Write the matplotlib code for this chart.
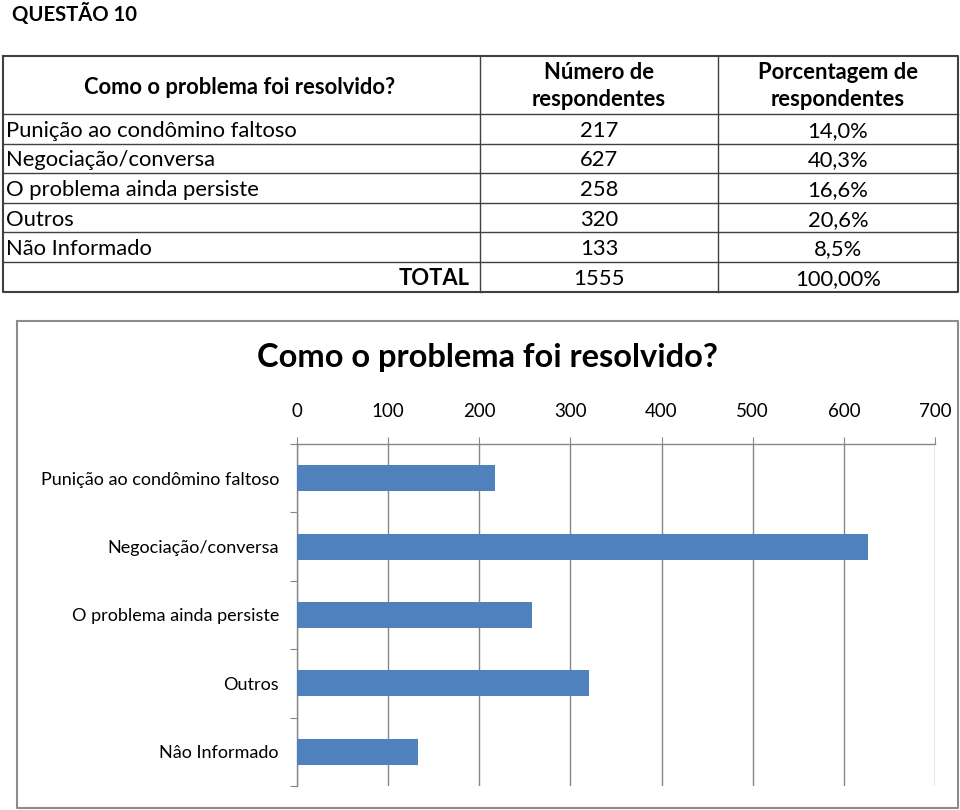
import matplotlib
matplotlib.use("Agg")
import matplotlib.pyplot as plt

# ---- data ----
categories = ["Punição ao condômino faltoso", "Negociação/conversa",
              "O problema ainda persiste", "Outros", "Não Informado"]
chart_labels = ["Punição ao condômino faltoso", "Negociação/conversa",
                "O problema ainda persiste", "Outros", "Nâo Informado"]
counts = [217, 627, 258, 320, 133]
percents = ["14,0%", "40,3%", "16,6%", "20,6%", "8,5%"]
total_count = "1555"
total_pct = "100,00%"
x_ticks = [0, 100, 200, 300, 400, 500, 600, 700]

FONT = "Lato"
plt.rcParams['font.family'] = [FONT, 'DejaVu Sans']

W, H = 960, 810
fig = plt.figure(figsize=(W / 100, H / 100), dpi=100)

# background axes in pixel coordinates
bg = fig.add_axes([0, 0, 1, 1])
bg.set_xlim(0, W)
bg.set_ylim(H, 0)
bg.axis("off")

bg.text(12, 14, "QUESTÃO 10", fontsize=14.6, fontweight="bold", va="center", ha="left")

# table geometry
tx0, tx1 = 3, 958
c1, c2 = 480, 718
ty0 = 56
hdr_bot = 114
row_h = 29.6
row_lines = [hdr_bot + i * row_h for i in range(7)]
ty1 = row_lines[-1]

lc = "#404040"
bg.plot([tx0, tx1, tx1, tx0, tx0], [ty0, ty0, ty1, ty1, ty0], color=lc, lw=1.5)
for y in row_lines[:-1]:
    bg.plot([tx0, tx1], [y, y], color=lc, lw=1.0)
bg.plot([c1, c1], [ty0, ty1], color=lc, lw=1.0)
bg.plot([c2, c2], [ty0, ty1], color=lc, lw=1.0)

fs = 15.8
bg.text(240, 87, "Como o problema foi resolvido?", fontsize=fs, fontweight="bold",
        ha="center", va="center")
bg.text(599, 86, "Número de\nrespondentes", fontsize=fs, fontweight="bold",
        ha="center", va="center", linespacing=1.4)
bg.text(838, 86, "Porcentagem de\nrespondentes", fontsize=fs, fontweight="bold",
        ha="center", va="center", linespacing=1.4)

for i, (cat, n, p) in enumerate(zip(categories, counts, percents)):
    yc = (row_lines[i] + row_lines[i + 1]) / 2 + 2
    bg.text(6, yc, cat, fontsize=fs, ha="left", va="center")
    bg.text(599, yc, str(n), fontsize=fs, ha="center", va="center")
    bg.text(838, yc, p, fontsize=fs, ha="center", va="center")
yc = (row_lines[5] + row_lines[6]) / 2 + 2
bg.text(470, yc, "TOTAL", fontsize=fs, fontweight="bold", ha="right", va="center")
bg.text(599, yc, total_count, fontsize=fs, ha="center", va="center")
bg.text(838, yc, total_pct, fontsize=fs, ha="center", va="center")

# chart border
bx0, bx1, by0, by1 = 17, 958, 321, 808
bg.plot([bx0, bx1, bx1, bx0, bx0], [by0, by0, by1, by1, by0], color="#8c8c8c", lw=1.5)
bg.text(487, 357, "Como o problema foi resolvido?", fontsize=23.5, fontweight="bold",
        ha="center", va="center")

# chart axes
ax_l, ax_r, ax_t, ax_b = 297, 935, 444, 786
ax = fig.add_axes([ax_l / W, 1 - ax_b / H, (ax_r - ax_l) / W, (ax_b - ax_t) / H])
ypos = list(range(len(counts)))
ax.barh(ypos, counts, height=0.38, color="#4F81BD", zorder=3)
ax.set_xlim(0, 700)
ax.set_ylim(len(counts) - 0.5, -0.5)
ax.set_xticks(x_ticks)
ax.set_xticklabels([str(t) for t in x_ticks])
ax.xaxis.tick_top()
ax.tick_params(axis="x", direction="out", length=5, color="#868686", labelsize=13.5, pad=12)
ax.grid(axis="x", color="#868686", lw=1.0, zorder=0)
ax.set_yticks([y - 0.5 for y in range(len(counts) + 1)], minor=False)
ax.set_yticklabels([])
ax.set_yticks(ypos, minor=True)
ax.set_yticklabels(chart_labels, minor=True)
ax.tick_params(axis="y", which="major", direction="out", length=5, color="#868686")
ax.tick_params(axis="y", which="minor", length=0, labelsize=13, pad=13)
for s in ["right", "bottom"]:
    ax.spines[s].set_visible(False)
for s in ["left", "top"]:
    ax.spines[s].set_color("#868686")
    ax.spines[s].set_linewidth(1.0)
ax.set_facecolor("none")

fig.savefig("out.png", dpi=100)
